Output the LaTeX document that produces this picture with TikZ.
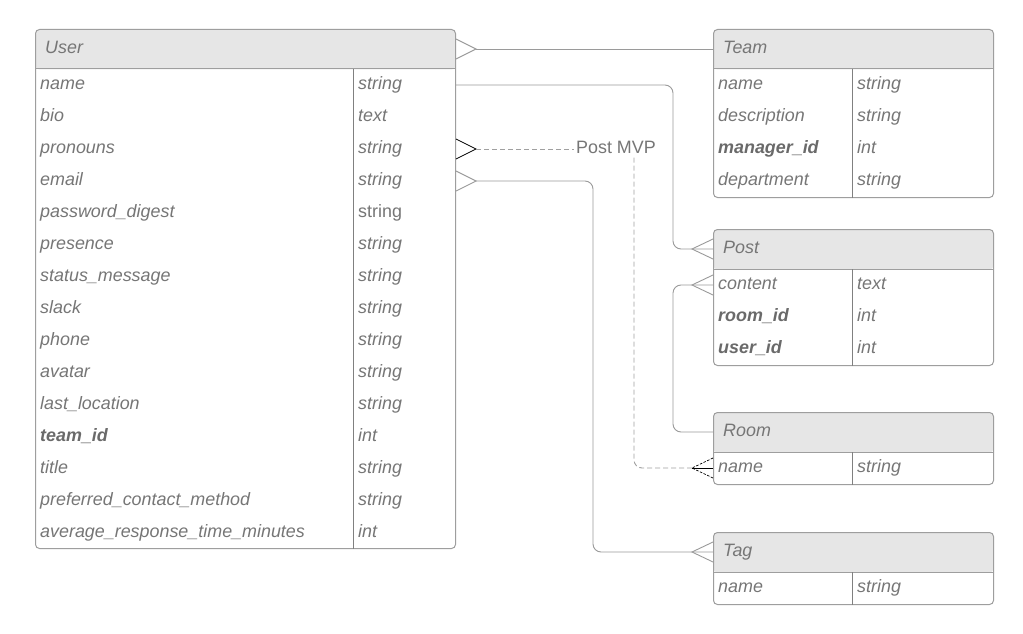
\documentclass[tikz,border=0pt]{standalone}
\usepackage{fontspec}
\setmainfont{Liberation Sans}
\newcommand\erfs{\fontsize{17.9}{20}\selectfont}
\definecolor{bordercol}{HTML}{9E9E9E}
\definecolor{divcol}{HTML}{808080}
\definecolor{hdrcol}{HTML}{E6E6E6}
\definecolor{txtcol}{HTML}{767676}
\definecolor{keycol}{HTML}{6A6A6A}
\definecolor{linecol}{HTML}{9A9A9A}
\definecolor{dashcol}{HTML}{A0A0A0}
\tikzset{
  tbl/.style={draw=bordercol, line width=1pt, rounded corners=4pt, fill=white,
    inner sep=0pt, anchor=north west,
    path picture={\fill[hdrcol] (path picture bounding box.north west) rectangle
      ([yshift=-40pt]path picture bounding box.north east);}},
  sepline/.style={draw=bordercol, line width=1pt},
  divline/.style={draw=divcol, line width=1pt},
  fld/.style={anchor=west, inner sep=0pt, text height=13pt, text depth=4pt,
    text=txtcol, font=\erfs\itshape},
  keyfld/.style={fld, text=keycol, font=\erfs\bfseries\itshape},
  upfld/.style={fld, font=\erfs\upshape},
  conn/.style={draw=linecol, line width=0.9pt, rounded corners=8pt},
  dashconn/.style={draw=dashcol, line width=0.9pt, rounded corners=8pt, dash pattern=on 5pt off 3pt},
  footline/.style={draw=linecol, line width=0.9pt},
  footblack/.style={draw=black, line width=0.7pt},
  footblackdash/.style={draw=black, line width=0.7pt, dash pattern=on 2.5pt off 1.5pt},
  crowL/.pic={\draw[footline] (0,-10) -- (20,0) -- (0,10);},
  crowLb/.pic={\draw[footblack] (0,-10) -- (20,0) -- (0,10);},
  crowR/.pic={\draw[footline] (0,-10) -- (-21,0) -- (0,10);},
  crowRb/.pic={\draw[footblackdash] (0,-10) -- (-21,0) -- (0,10); \draw[footblack] (0,0) -- (-21,0);}
}
\begin{document}
\begin{tikzpicture}[x=1pt,y=-1pt]
\useasboundingbox[fill=white] (0,0) rectangle (1023,634);

% ---------- tables ----------
\node[tbl, minimum width=420pt, minimum height=519pt] (user) at (35,29) {};
\node[tbl, minimum width=280pt, minimum height=168pt] (team) at (713,29) {};
\node[tbl, minimum width=280pt, minimum height=136pt] (post) at (713,229) {};
\node[tbl, minimum width=280pt, minimum height=72pt] (room) at (713,412) {};
\node[tbl, minimum width=280pt, minimum height=72pt] (tag) at (713,532) {};

% header separators and column dividers
\foreach \t/\dx in {user/318, team/139, post/139, room/139, tag/139} {
  \draw[sepline] ([yshift=-40pt]\t.north west) -- ([yshift=-40pt]\t.north east);
  \draw[divline] ([xshift=\dx pt, yshift=-40pt]\t.north west) -- ([xshift=\dx pt]\t.south west);
}

% ---------- User ----------
\node[fld] (uhdr) at (45,49) {User};
\node[fld] (uname) at (40,85) {name};            \node[fld] (unamet) at (358,85) {string};
\node[fld] (ubio) at (40,117) {bio};             \node[fld] (ubiot) at (358,117) {text};
\node[fld] (upron) at (40,149) {pronouns};       \node[fld] (upront) at (358,149) {string};
\node[fld] (uemail) at (40,181) {email};         \node[fld] (uemailt) at (358,181) {string};
\node[fld] (upass) at (40,213) {password\_digest}; \node[upfld] (upasst) at (358,213) {string};
\node[fld] (upres) at (40,245) {presence};       \node[fld] (uprest) at (358,245) {string};
\node[fld] (ustat) at (40,277) {status\_message}; \node[fld] (ustatt) at (358,277) {string};
\node[fld] (uslack) at (40,309) {slack};         \node[fld] (uslackt) at (358,309) {string};
\node[fld] (uphone) at (40,341) {phone};         \node[fld] (uphonet) at (358,341) {string};
\node[fld] (uavat) at (40,373) {avatar};         \node[fld] (uavatt) at (358,373) {string};
\node[fld] (uloc) at (40,405) {last\_location};  \node[fld] (uloct) at (358,405) {string};
\node[keyfld] (uteam) at (40,437) {team\_id};    \node[fld] (uteamt) at (358,437) {int};
\node[fld] (utitle) at (40,469) {title};         \node[fld] (utitlet) at (358,469) {string};
\node[fld] (upref) at (40,501) {preferred\_contact\_method}; \node[fld] (upreft) at (358,501) {string};
\node[fld] (uavg) at (40,533) {average\_response\_time\_minutes}; \node[fld] (uavgt) at (358,533) {int};

% ---------- Team ----------
\node[fld] (thdr) at (723,49) {Team};
\node[fld] (tname) at (718,85) {name};           \node[fld] (tnamet) at (857,85) {string};
\node[fld] (tdesc) at (718,117) {description};   \node[fld] (tdesct) at (857,117) {string};
\node[keyfld] (tman) at (718,149) {manager\_id}; \node[fld] (tmant) at (857,149) {int};
\node[fld] (tdep) at (718,181) {department};     \node[fld] (tdept) at (857,181) {string};

% ---------- Post ----------
\node[fld] (phdr) at (723,249) {Post};
\node[fld] (pcont) at (718,285) {content};       \node[fld] (pcontt) at (857,285) {text};
\node[keyfld] (proom) at (718,317) {room\_id};   \node[fld] (proomt) at (857,317) {int};
\node[keyfld] (puser) at (718,349) {user\_id};   \node[fld] (pusert) at (857,349) {int};

% ---------- Room ----------
\node[fld] (rhdr) at (723,432) {Room};
\node[fld] (rname) at (718,468) {name};          \node[fld] (rnamet) at (857,468) {string};

% ---------- Tag ----------
\node[fld] (ghdr) at (723,552) {Tag};
\node[fld] (gname) at (718,588) {name};          \node[fld] (gnamet) at (857,588) {string};

% ---------- label ----------
\node[upfld] (mvp) at (576,149) {Post MVP};

% ---------- helper x positions ----------
\coordinate (postx) at (673,0);
\coordinate (tagx) at (593,0);
\coordinate (mvpx) at (634,0);

% ---------- connectors ----------
% User -- Team
\pic at (user.east |- uhdr) {crowL};
\draw[conn] ([xshift=20pt]user.east |- uhdr) -- (team.west |- thdr);

% User.name -> Post
\draw[conn] (user.east |- uname) -| (postx |- phdr) -- (post.west |- phdr);
\pic at (post.west |- phdr) {crowR};

% Room -> Post.content
\draw[conn] (room.west |- rhdr) -| (postx |- pcont) -- (post.west |- pcont);
\pic at (post.west |- pcont) {crowR};

% User.pronouns - - Post MVP - - Room.name
\pic at (user.east |- upron) {crowLb};
\draw[dashconn] ([xshift=20pt]user.east |- upron) -- ([xshift=-2pt]mvp.west);
\draw[dashconn] (mvp.south -| mvpx) |- ([xshift=-21pt]room.west |- rname);
\pic at (room.west |- rname) {crowRb};

% User.email -> Tag
\pic at (user.east |- uemail) {crowL};
\draw[conn] ([xshift=20pt]user.east |- uemail) -| (tagx |- ghdr) -- (tag.west |- ghdr);
\pic at (tag.west |- ghdr) {crowR};
\end{tikzpicture}
\end{document}
